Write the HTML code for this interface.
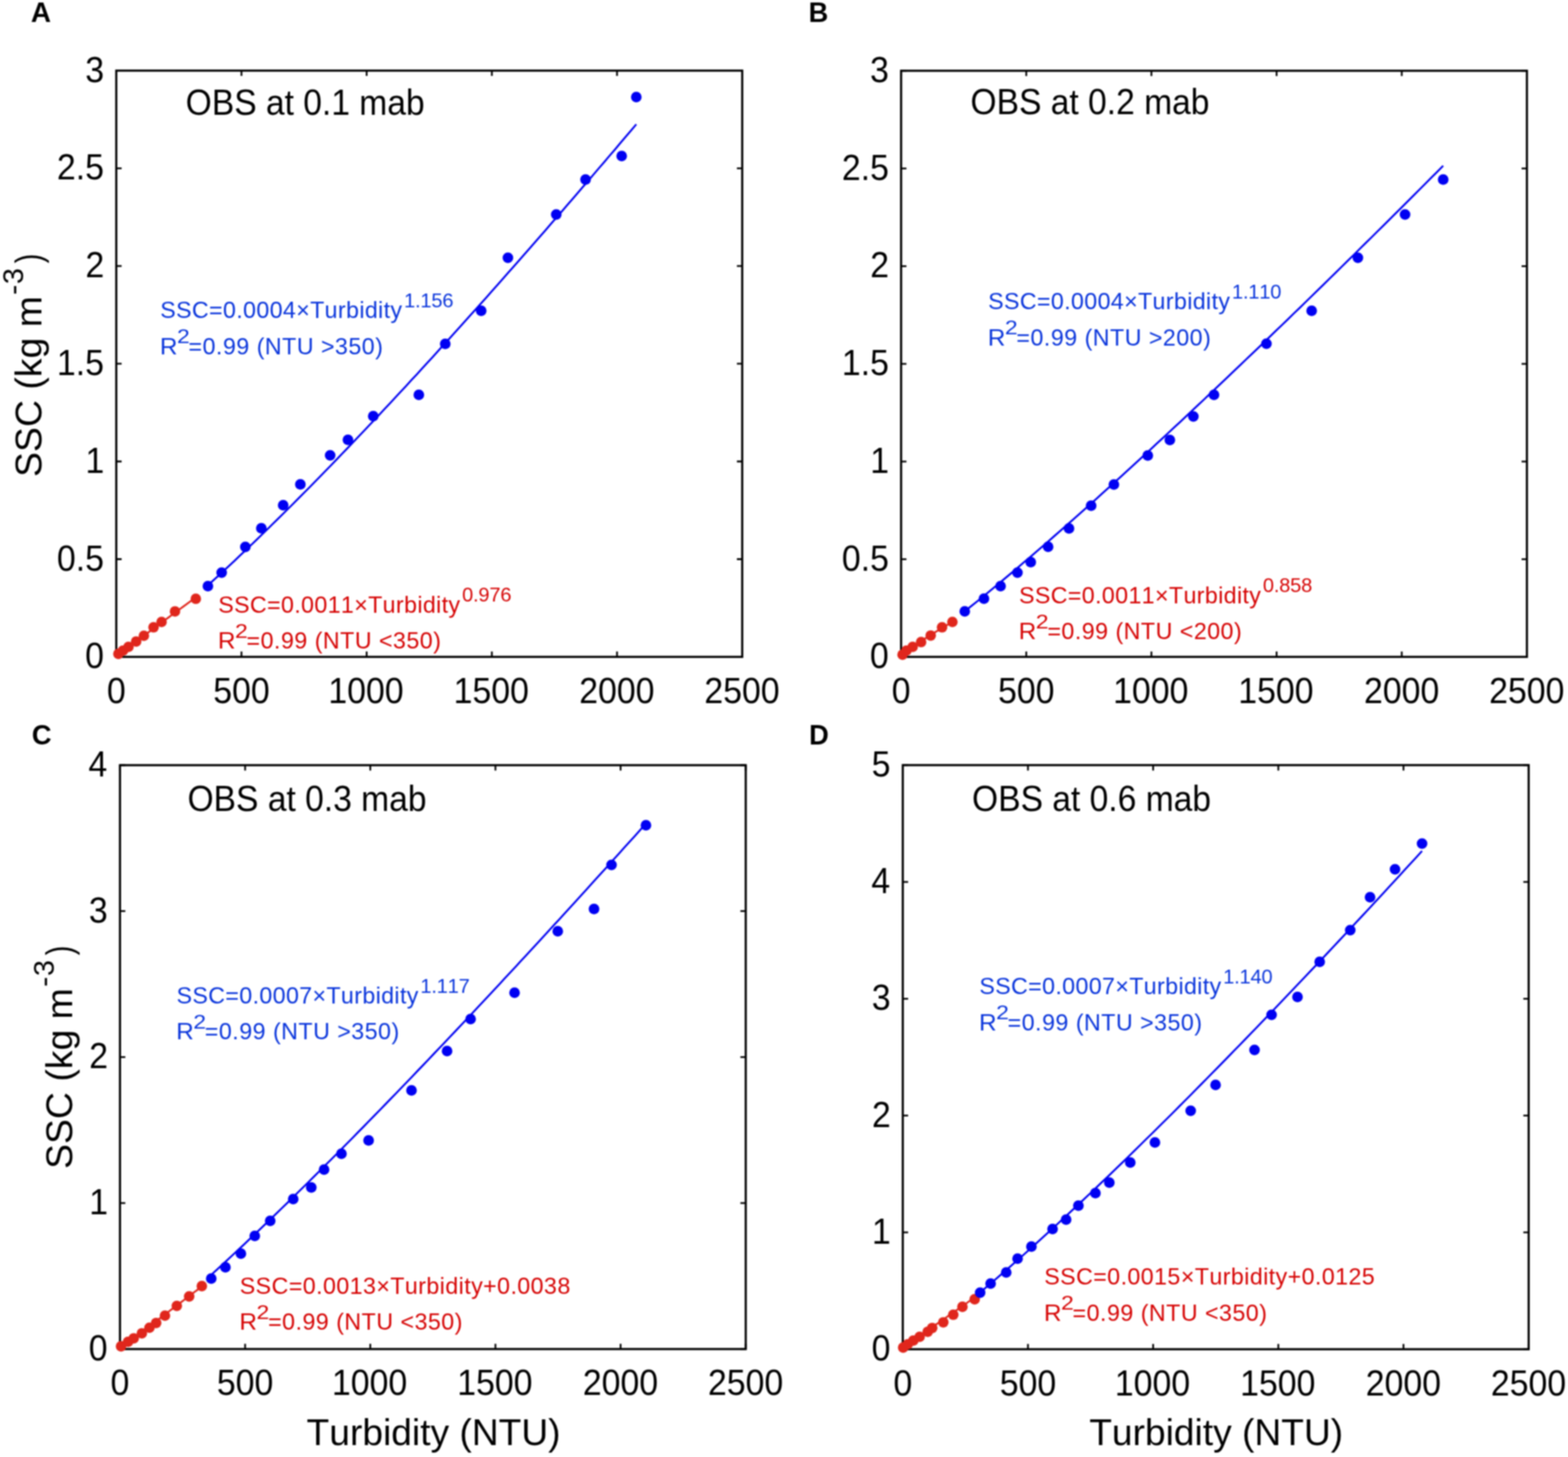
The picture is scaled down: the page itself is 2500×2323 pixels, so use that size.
<!DOCTYPE html>
<html><head><meta charset="utf-8"><title>SSC vs Turbidity calibration</title>
<style>
html,body{margin:0;padding:0;background:#fff;}
svg{display:block;}
#fig{width:2500px;height:2323px;filter:blur(0.8px);}
text{font-family:"Liberation Sans",Arial,Helvetica,sans-serif;font-kerning:none;}
</style></head><body>
<div id="fig">
<svg width="2500" height="2323" viewBox="0 0 2500 2323">
<rect width="2500" height="2323" fill="#fff"/>
<rect x="185.4" y="112.6" width="998.00" height="934.70" fill="none" stroke="#000" stroke-width="3.4"/>
<text x="170.40" y="1120.70" font-size="56.5" textLength="30.00" lengthAdjust="spacingAndGlyphs" fill="#000">0</text>
<text x="339.97" y="1120.70" font-size="56.5" textLength="90.01" lengthAdjust="spacingAndGlyphs" fill="#000">500</text>
<text x="523.59" y="1120.70" font-size="56.5" textLength="120.02" lengthAdjust="spacingAndGlyphs" fill="#000">1000</text>
<text x="723.19" y="1120.70" font-size="56.5" textLength="120.02" lengthAdjust="spacingAndGlyphs" fill="#000">1500</text>
<text x="923.49" y="1120.70" font-size="56.5" textLength="120.02" lengthAdjust="spacingAndGlyphs" fill="#000">2000</text>
<text x="1123.09" y="1120.70" font-size="56.5" textLength="120.02" lengthAdjust="spacingAndGlyphs" fill="#000">2500</text>
<text x="135.70" y="1065.30" font-size="56.5" textLength="30.00" lengthAdjust="spacingAndGlyphs" fill="#000">0</text>
<text x="90.87" y="909.52" font-size="56.5" textLength="75.00" lengthAdjust="spacingAndGlyphs" fill="#000">0.5</text>
<text x="136.23" y="753.73" font-size="56.5" textLength="30.00" lengthAdjust="spacingAndGlyphs" fill="#000">1</text>
<text x="90.87" y="597.95" font-size="56.5" textLength="75.00" lengthAdjust="spacingAndGlyphs" fill="#000">1.5</text>
<text x="136.31" y="442.17" font-size="56.5" textLength="30.00" lengthAdjust="spacingAndGlyphs" fill="#000">2</text>
<text x="90.87" y="286.38" font-size="56.5" textLength="75.00" lengthAdjust="spacingAndGlyphs" fill="#000">2.5</text>
<text x="135.97" y="130.60" font-size="56.5" textLength="30.00" lengthAdjust="spacingAndGlyphs" fill="#000">3</text>
<path d="M185.40,1047.30v-8.5M185.40,112.60v8.5M385.00,1047.30v-8.5M385.00,112.60v8.5M584.60,1047.30v-8.5M584.60,112.60v8.5M784.20,1047.30v-8.5M784.20,112.60v8.5M983.80,1047.30v-8.5M983.80,112.60v8.5M1183.40,1047.30v-8.5M1183.40,112.60v8.5M185.40,1047.30h8.5M1183.40,1047.30h-8.5M185.40,891.52h8.5M1183.40,891.52h-8.5M185.40,735.73h8.5M1183.40,735.73h-8.5M185.40,579.95h8.5M1183.40,579.95h-8.5M185.40,424.17h8.5M1183.40,424.17h-8.5M185.40,268.38h8.5M1183.40,268.38h-8.5M185.40,112.60h8.5M1183.40,112.60h-8.5" stroke="#000" stroke-width="2.8" fill="none"/>
<polyline points="331.5,933.2 340.0,925.4 348.6,917.6 357.1,909.7 365.6,901.8 374.2,893.8 382.7,885.7 391.3,877.6 399.8,869.5 408.3,861.3 416.9,853.0 425.4,844.7 433.9,836.3 442.5,827.9 451.0,819.5 459.6,811.0 468.1,802.5 476.6,793.9 485.2,785.3 493.7,776.7 502.2,768.0 510.8,759.3 519.3,750.5 527.9,741.7 536.4,732.9 544.9,724.0 553.5,715.1 562.0,706.2 570.5,697.3 579.1,688.3 587.6,679.3 596.2,670.2 604.7,661.2 613.2,652.1 621.8,642.9 630.3,633.8 638.9,624.6 647.4,615.4 655.9,606.1 664.5,596.9 673.0,587.6 681.5,578.2 690.1,568.9 698.6,559.5 707.1,550.1 715.7,540.7 724.2,531.3 732.8,521.8 741.3,512.3 749.8,502.8 758.4,493.3 766.9,483.7 775.5,474.2 784.0,464.6 792.5,454.9 801.1,445.3 809.6,435.6 818.1,426.0 826.7,416.3 835.2,406.5 843.8,396.8 852.3,387.0 860.8,377.3 869.4,367.5 877.9,357.6 886.4,347.8 895.0,337.9 903.5,328.1 912.0,318.2 920.6,308.3 929.1,298.3 937.7,288.4 946.2,278.4 954.7,268.4 963.3,258.4 971.8,248.4 980.4,238.4 988.9,228.3 997.4,218.3 1006.0,208.2 1014.5,198.1" fill="none" stroke="#0000f2" stroke-width="3.0" stroke-linejoin="round"/>
<polyline points="188.8,1044.5 190.3,1043.3 191.9,1042.1 193.4,1040.9 195.0,1039.7 196.5,1038.5 198.1,1037.3 199.6,1036.1 201.1,1034.9 202.7,1033.7 204.2,1032.6 205.8,1031.4 207.3,1030.2 208.9,1029.0 210.4,1027.9 211.9,1026.7 213.5,1025.5 215.0,1024.4 216.6,1023.2 218.1,1022.0 219.7,1020.9 221.2,1019.7 222.7,1018.6 224.3,1017.4 225.8,1016.2 227.4,1015.1 228.9,1013.9 230.4,1012.8 232.0,1011.6 233.5,1010.5 235.1,1009.3 236.6,1008.2 238.2,1007.0 239.7,1005.9 241.2,1004.7 242.8,1003.6 244.3,1002.4 245.9,1001.3 247.4,1000.1 249.0,999.0 250.5,997.8 252.0,996.7 253.6,995.6 255.1,994.4 256.7,993.3 258.2,992.1 259.8,991.0 261.3,989.9 262.8,988.7 264.4,987.6 265.9,986.4 267.5,985.3 269.0,984.2 270.6,983.0 272.1,981.9 273.6,980.8 275.2,979.6 276.7,978.5 278.3,977.3 279.8,976.2 281.4,975.1 282.9,973.9 284.4,972.8 286.0,971.7 287.5,970.6 289.1,969.4 290.6,968.3 292.1,967.2 293.7,966.0 295.2,964.9 296.8,963.8 298.3,962.6 299.9,961.5 301.4,960.4 302.9,959.3 304.5,958.1 306.0,957.0 307.6,955.9 309.1,954.7 310.7,953.6 312.2,952.5" fill="none" stroke="#e0261c" stroke-width="3.0" stroke-linejoin="round"/>
<circle cx="188.8" cy="1042.5" r="8.4" fill="#e0261c"/>
<circle cx="196.0" cy="1037.4" r="8.4" fill="#e0261c"/>
<circle cx="204.8" cy="1031.4" r="8.4" fill="#e0261c"/>
<circle cx="217.1" cy="1022.8" r="8.4" fill="#e0261c"/>
<circle cx="229.4" cy="1013.6" r="8.4" fill="#e0261c"/>
<circle cx="244.8" cy="1000.2" r="8.4" fill="#e0261c"/>
<circle cx="257.6" cy="991.6" r="8.4" fill="#e0261c"/>
<circle cx="279.0" cy="974.8" r="8.4" fill="#e0261c"/>
<circle cx="312.2" cy="954.7" r="8.4" fill="#e0261c"/>
<circle cx="331.5" cy="934.6" r="8.5" fill="#0000f2"/>
<circle cx="353.4" cy="913.0" r="8.5" fill="#0000f2"/>
<circle cx="391.2" cy="872.0" r="8.5" fill="#0000f2"/>
<circle cx="416.7" cy="842.2" r="8.5" fill="#0000f2"/>
<circle cx="451.5" cy="805.5" r="8.5" fill="#0000f2"/>
<circle cx="478.9" cy="772.2" r="8.5" fill="#0000f2"/>
<circle cx="526.4" cy="726.0" r="8.5" fill="#0000f2"/>
<circle cx="554.8" cy="701.3" r="8.5" fill="#0000f2"/>
<circle cx="595.1" cy="663.6" r="8.5" fill="#0000f2"/>
<circle cx="667.8" cy="629.4" r="8.5" fill="#0000f2"/>
<circle cx="709.9" cy="548.2" r="8.5" fill="#0000f2"/>
<circle cx="767.2" cy="495.5" r="8.5" fill="#0000f2"/>
<circle cx="809.8" cy="411.0" r="8.5" fill="#0000f2"/>
<circle cx="886.9" cy="342.1" r="8.5" fill="#0000f2"/>
<circle cx="933.6" cy="286.3" r="8.5" fill="#0000f2"/>
<circle cx="991.2" cy="248.7" r="8.5" fill="#0000f2"/>
<circle cx="1014.5" cy="154.7" r="8.5" fill="#0000f2"/>
<rect x="1436.7" y="112.8" width="997.80" height="934.50" fill="none" stroke="#000" stroke-width="3.4"/>
<text x="1421.70" y="1120.70" font-size="56.5" textLength="30.00" lengthAdjust="spacingAndGlyphs" fill="#000">0</text>
<text x="1591.23" y="1120.70" font-size="56.5" textLength="90.01" lengthAdjust="spacingAndGlyphs" fill="#000">500</text>
<text x="1774.81" y="1120.70" font-size="56.5" textLength="120.02" lengthAdjust="spacingAndGlyphs" fill="#000">1000</text>
<text x="1974.37" y="1120.70" font-size="56.5" textLength="120.02" lengthAdjust="spacingAndGlyphs" fill="#000">1500</text>
<text x="2174.63" y="1120.70" font-size="56.5" textLength="120.02" lengthAdjust="spacingAndGlyphs" fill="#000">2000</text>
<text x="2374.19" y="1120.70" font-size="56.5" textLength="120.02" lengthAdjust="spacingAndGlyphs" fill="#000">2500</text>
<text x="1387.00" y="1065.30" font-size="56.5" textLength="30.00" lengthAdjust="spacingAndGlyphs" fill="#000">0</text>
<text x="1342.17" y="909.55" font-size="56.5" textLength="75.00" lengthAdjust="spacingAndGlyphs" fill="#000">0.5</text>
<text x="1387.53" y="753.80" font-size="56.5" textLength="30.00" lengthAdjust="spacingAndGlyphs" fill="#000">1</text>
<text x="1342.17" y="598.05" font-size="56.5" textLength="75.00" lengthAdjust="spacingAndGlyphs" fill="#000">1.5</text>
<text x="1387.61" y="442.30" font-size="56.5" textLength="30.00" lengthAdjust="spacingAndGlyphs" fill="#000">2</text>
<text x="1342.17" y="286.55" font-size="56.5" textLength="75.00" lengthAdjust="spacingAndGlyphs" fill="#000">2.5</text>
<text x="1387.27" y="130.80" font-size="56.5" textLength="30.00" lengthAdjust="spacingAndGlyphs" fill="#000">3</text>
<path d="M1436.70,1047.30v-8.5M1436.70,112.80v8.5M1636.26,1047.30v-8.5M1636.26,112.80v8.5M1835.82,1047.30v-8.5M1835.82,112.80v8.5M2035.38,1047.30v-8.5M2035.38,112.80v8.5M2234.94,1047.30v-8.5M2234.94,112.80v8.5M2434.50,1047.30v-8.5M2434.50,112.80v8.5M1436.70,1047.30h8.5M2434.50,1047.30h-8.5M1436.70,891.55h8.5M2434.50,891.55h-8.5M1436.70,735.80h8.5M2434.50,735.80h-8.5M1436.70,580.05h8.5M2434.50,580.05h-8.5M1436.70,424.30h8.5M2434.50,424.30h-8.5M1436.70,268.55h8.5M2434.50,268.55h-8.5M1436.70,112.80h8.5M2434.50,112.80h-8.5" stroke="#000" stroke-width="2.8" fill="none"/>
<polyline points="1538.2,974.6 1547.7,967.0 1557.3,959.3 1566.8,951.6 1576.3,943.8 1585.9,935.9 1595.4,928.0 1604.9,920.0 1614.5,912.0 1624.0,903.9 1633.5,895.7 1643.1,887.6 1652.6,879.4 1662.2,871.1 1671.7,862.8 1681.2,854.5 1690.8,846.1 1700.3,837.7 1709.8,829.3 1719.4,820.8 1728.9,812.3 1738.4,803.8 1748.0,795.3 1757.5,786.7 1767.0,778.1 1776.6,769.4 1786.1,760.8 1795.6,752.1 1805.2,743.4 1814.7,734.6 1824.2,725.8 1833.8,717.1 1843.3,708.2 1852.9,699.4 1862.4,690.5 1871.9,681.7 1881.5,672.8 1891.0,663.8 1900.5,654.9 1910.1,645.9 1919.6,637.0 1929.1,627.9 1938.7,618.9 1948.2,609.9 1957.7,600.8 1967.3,591.7 1976.8,582.6 1986.3,573.5 1995.9,564.4 2005.4,555.3 2015.0,546.1 2024.5,536.9 2034.0,527.7 2043.6,518.5 2053.1,509.3 2062.6,500.0 2072.2,490.8 2081.7,481.5 2091.2,472.2 2100.8,462.9 2110.3,453.6 2119.8,444.2 2129.4,434.9 2138.9,425.5 2148.4,416.1 2158.0,406.7 2167.5,397.3 2177.0,387.9 2186.6,378.5 2196.1,369.0 2205.7,359.6 2215.2,350.1 2224.7,340.6 2234.3,331.1 2243.8,321.6 2253.3,312.1 2262.9,302.5 2272.4,293.0 2281.9,283.4 2291.5,273.9 2301.0,264.3" fill="none" stroke="#0000f2" stroke-width="3.0" stroke-linejoin="round"/>
<polyline points="1439.0,1044.6 1440.0,1043.6 1441.0,1042.7 1442.0,1041.8 1443.0,1040.9 1444.0,1040.1 1445.0,1039.3 1446.0,1038.5 1447.0,1037.7 1447.9,1036.9 1448.9,1036.1 1449.9,1035.4 1450.9,1034.6 1451.9,1033.9 1452.9,1033.1 1453.9,1032.4 1454.9,1031.7 1455.9,1030.9 1456.9,1030.2 1457.9,1029.5 1458.9,1028.8 1459.9,1028.1 1460.9,1027.4 1461.9,1026.8 1462.8,1026.1 1463.8,1025.4 1464.8,1024.7 1465.8,1024.0 1466.8,1023.4 1467.8,1022.7 1468.8,1022.0 1469.8,1021.4 1470.8,1020.7 1471.8,1020.1 1472.8,1019.4 1473.8,1018.8 1474.8,1018.1 1475.8,1017.5 1476.8,1016.9 1477.8,1016.2 1478.8,1015.6 1479.7,1015.0 1480.7,1014.3 1481.7,1013.7 1482.7,1013.1 1483.7,1012.4 1484.7,1011.8 1485.7,1011.2 1486.7,1010.6 1487.7,1010.0 1488.7,1009.4 1489.7,1008.7 1490.7,1008.1 1491.7,1007.5 1492.7,1006.9 1493.7,1006.3 1494.7,1005.7 1495.6,1005.1 1496.6,1004.5 1497.6,1003.9 1498.6,1003.3 1499.6,1002.7 1500.6,1002.1 1501.6,1001.5 1502.6,1000.9 1503.6,1000.4 1504.6,999.8 1505.6,999.2 1506.6,998.6 1507.6,998.0 1508.6,997.4 1509.6,996.8 1510.5,996.3 1511.5,995.7 1512.5,995.1 1513.5,994.5 1514.5,993.9 1515.5,993.4 1516.5,992.8 1517.5,992.2 1518.5,991.7" fill="none" stroke="#e0261c" stroke-width="3.0" stroke-linejoin="round"/>
<circle cx="1439.0" cy="1043.8" r="8.4" fill="#e0261c"/>
<circle cx="1445.1" cy="1037.4" r="8.4" fill="#e0261c"/>
<circle cx="1455.1" cy="1031.4" r="8.4" fill="#e0261c"/>
<circle cx="1468.6" cy="1023.7" r="8.4" fill="#e0261c"/>
<circle cx="1483.9" cy="1013.3" r="8.4" fill="#e0261c"/>
<circle cx="1502.0" cy="1000.2" r="8.4" fill="#e0261c"/>
<circle cx="1518.5" cy="991.6" r="8.4" fill="#e0261c"/>
<circle cx="1538.2" cy="974.7" r="8.5" fill="#0000f2"/>
<circle cx="1568.8" cy="954.6" r="8.5" fill="#0000f2"/>
<circle cx="1595.3" cy="934.4" r="8.5" fill="#0000f2"/>
<circle cx="1622.2" cy="912.9" r="8.5" fill="#0000f2"/>
<circle cx="1643.4" cy="896.2" r="8.5" fill="#0000f2"/>
<circle cx="1671.1" cy="871.8" r="8.5" fill="#0000f2"/>
<circle cx="1704.4" cy="842.5" r="8.5" fill="#0000f2"/>
<circle cx="1739.7" cy="806.2" r="8.5" fill="#0000f2"/>
<circle cx="1776.0" cy="772.6" r="8.5" fill="#0000f2"/>
<circle cx="1830.0" cy="726.2" r="8.5" fill="#0000f2"/>
<circle cx="1865.2" cy="701.6" r="8.5" fill="#0000f2"/>
<circle cx="1902.7" cy="664.1" r="8.5" fill="#0000f2"/>
<circle cx="1935.6" cy="629.4" r="8.5" fill="#0000f2"/>
<circle cx="2019.2" cy="548.1" r="8.5" fill="#0000f2"/>
<circle cx="2091.3" cy="495.5" r="8.5" fill="#0000f2"/>
<circle cx="2165.0" cy="410.9" r="8.5" fill="#0000f2"/>
<circle cx="2240.2" cy="342.0" r="8.5" fill="#0000f2"/>
<circle cx="2301.0" cy="286.3" r="8.5" fill="#0000f2"/>
<rect x="191.3" y="1220.0" width="997.70" height="930.90" fill="none" stroke="#000" stroke-width="3.4"/>
<text x="176.30" y="2224.30" font-size="56.5" textLength="30.00" lengthAdjust="spacingAndGlyphs" fill="#000">0</text>
<text x="345.81" y="2224.30" font-size="56.5" textLength="90.01" lengthAdjust="spacingAndGlyphs" fill="#000">500</text>
<text x="529.37" y="2224.30" font-size="56.5" textLength="120.02" lengthAdjust="spacingAndGlyphs" fill="#000">1000</text>
<text x="728.91" y="2224.30" font-size="56.5" textLength="120.02" lengthAdjust="spacingAndGlyphs" fill="#000">1500</text>
<text x="929.15" y="2224.30" font-size="56.5" textLength="120.02" lengthAdjust="spacingAndGlyphs" fill="#000">2000</text>
<text x="1128.69" y="2224.30" font-size="56.5" textLength="120.02" lengthAdjust="spacingAndGlyphs" fill="#000">2500</text>
<text x="141.60" y="2168.90" font-size="56.5" textLength="30.00" lengthAdjust="spacingAndGlyphs" fill="#000">0</text>
<text x="142.13" y="1936.18" font-size="56.5" textLength="30.00" lengthAdjust="spacingAndGlyphs" fill="#000">1</text>
<text x="142.21" y="1703.45" font-size="56.5" textLength="30.00" lengthAdjust="spacingAndGlyphs" fill="#000">2</text>
<text x="141.87" y="1470.72" font-size="56.5" textLength="30.00" lengthAdjust="spacingAndGlyphs" fill="#000">3</text>
<text x="141.08" y="1238.00" font-size="56.5" textLength="30.00" lengthAdjust="spacingAndGlyphs" fill="#000">4</text>
<path d="M191.30,2150.90v-8.5M191.30,1220.00v8.5M390.84,2150.90v-8.5M390.84,1220.00v8.5M590.38,2150.90v-8.5M590.38,1220.00v8.5M789.92,2150.90v-8.5M789.92,1220.00v8.5M989.46,2150.90v-8.5M989.46,1220.00v8.5M1189.00,2150.90v-8.5M1189.00,1220.00v8.5M191.30,2150.90h8.5M1189.00,2150.90h-8.5M191.30,1918.18h8.5M1189.00,1918.18h-8.5M191.30,1685.45h8.5M1189.00,1685.45h-8.5M191.30,1452.72h8.5M1189.00,1452.72h-8.5M191.30,1220.00h8.5M1189.00,1220.00h-8.5" stroke="#000" stroke-width="2.8" fill="none"/>
<polyline points="336.8,2032.5 345.5,2024.6 354.1,2016.6 362.8,2008.6 371.5,2000.5 380.1,1992.4 388.8,1984.3 397.4,1976.1 406.1,1967.9 414.8,1959.6 423.4,1951.3 432.1,1943.0 440.8,1934.6 449.4,1926.2 458.1,1917.8 466.8,1909.3 475.4,1900.8 484.1,1892.3 492.7,1883.7 501.4,1875.1 510.1,1866.5 518.7,1857.8 527.4,1849.2 536.1,1840.5 544.7,1831.7 553.4,1823.0 562.1,1814.2 570.7,1805.4 579.4,1796.6 588.0,1787.7 596.7,1778.9 605.4,1770.0 614.0,1761.1 622.7,1752.1 631.4,1743.2 640.0,1734.2 648.7,1725.2 657.4,1716.2 666.0,1707.1 674.7,1698.1 683.4,1689.0 692.0,1679.9 700.7,1670.8 709.3,1661.7 718.0,1652.5 726.7,1643.4 735.3,1634.2 744.0,1625.0 752.7,1615.8 761.3,1606.5 770.0,1597.3 778.7,1588.0 787.3,1578.7 796.0,1569.4 804.6,1560.1 813.3,1550.8 822.0,1541.5 830.6,1532.1 839.3,1522.7 848.0,1513.3 856.6,1503.9 865.3,1494.5 874.0,1485.1 882.6,1475.6 891.3,1466.2 899.9,1456.7 908.6,1447.2 917.3,1437.7 925.9,1428.2 934.6,1418.7 943.3,1409.1 951.9,1399.6 960.6,1390.0 969.3,1380.4 977.9,1370.8 986.6,1361.2 995.2,1351.6 1003.9,1342.0 1012.6,1332.4 1021.2,1322.7 1029.9,1313.0" fill="none" stroke="#0000f2" stroke-width="3.0" stroke-linejoin="round"/>
<polyline points="193.0,2148.7 194.6,2147.5 196.2,2146.3 197.8,2145.1 199.4,2143.8 201.1,2142.6 202.7,2141.4 204.3,2140.2 205.9,2139.0 207.5,2137.7 209.1,2136.5 210.7,2135.3 212.3,2134.1 213.9,2132.9 215.5,2131.6 217.2,2130.4 218.8,2129.2 220.4,2128.0 222.0,2126.8 223.6,2125.5 225.2,2124.3 226.8,2123.1 228.4,2121.9 230.0,2120.7 231.6,2119.4 233.2,2118.2 234.9,2117.0 236.5,2115.8 238.1,2114.6 239.7,2113.3 241.3,2112.1 242.9,2110.9 244.5,2109.7 246.1,2108.4 247.7,2107.2 249.3,2106.0 251.0,2104.8 252.6,2103.6 254.2,2102.3 255.8,2101.1 257.4,2099.9 259.0,2098.7 260.6,2097.5 262.2,2096.2 263.8,2095.0 265.5,2093.8 267.1,2092.6 268.7,2091.4 270.3,2090.1 271.9,2088.9 273.5,2087.7 275.1,2086.5 276.7,2085.3 278.3,2084.0 279.9,2082.8 281.6,2081.6 283.2,2080.4 284.8,2079.2 286.4,2077.9 288.0,2076.7 289.6,2075.5 291.2,2074.3 292.8,2073.1 294.4,2071.8 296.0,2070.6 297.6,2069.4 299.3,2068.2 300.9,2067.0 302.5,2065.7 304.1,2064.5 305.7,2063.3 307.3,2062.1 308.9,2060.8 310.5,2059.6 312.1,2058.4 313.8,2057.2 315.4,2056.0 317.0,2054.7 318.6,2053.5 320.2,2052.3 321.8,2051.1" fill="none" stroke="#e0261c" stroke-width="3.0" stroke-linejoin="round"/>
<circle cx="193.0" cy="2146.5" r="8.4" fill="#e0261c"/>
<circle cx="204.1" cy="2139.4" r="8.4" fill="#e0261c"/>
<circle cx="213.2" cy="2133.8" r="8.4" fill="#e0261c"/>
<circle cx="226.2" cy="2125.8" r="8.4" fill="#e0261c"/>
<circle cx="238.3" cy="2116.9" r="8.4" fill="#e0261c"/>
<circle cx="249.0" cy="2109.3" r="8.4" fill="#e0261c"/>
<circle cx="263.0" cy="2097.6" r="8.4" fill="#e0261c"/>
<circle cx="281.9" cy="2082.1" r="8.4" fill="#e0261c"/>
<circle cx="301.6" cy="2067.0" r="8.4" fill="#e0261c"/>
<circle cx="321.8" cy="2050.5" r="8.4" fill="#e0261c"/>
<circle cx="336.8" cy="2038.5" r="8.5" fill="#0000f2"/>
<circle cx="359.4" cy="2020.4" r="8.5" fill="#0000f2"/>
<circle cx="384.1" cy="1998.7" r="8.5" fill="#0000f2"/>
<circle cx="406.2" cy="1970.5" r="8.5" fill="#0000f2"/>
<circle cx="430.8" cy="1946.4" r="8.5" fill="#0000f2"/>
<circle cx="467.5" cy="1911.7" r="8.5" fill="#0000f2"/>
<circle cx="496.3" cy="1893.2" r="8.5" fill="#0000f2"/>
<circle cx="516.7" cy="1864.7" r="8.5" fill="#0000f2"/>
<circle cx="544.4" cy="1839.4" r="8.5" fill="#0000f2"/>
<circle cx="587.7" cy="1818.3" r="8.5" fill="#0000f2"/>
<circle cx="656.1" cy="1738.6" r="8.5" fill="#0000f2"/>
<circle cx="712.8" cy="1675.7" r="8.5" fill="#0000f2"/>
<circle cx="750.3" cy="1624.7" r="8.5" fill="#0000f2"/>
<circle cx="820.4" cy="1582.7" r="8.5" fill="#0000f2"/>
<circle cx="889.3" cy="1484.7" r="8.5" fill="#0000f2"/>
<circle cx="947.1" cy="1449.2" r="8.5" fill="#0000f2"/>
<circle cx="975.0" cy="1379.1" r="8.5" fill="#0000f2"/>
<circle cx="1029.9" cy="1315.7" r="8.5" fill="#0000f2"/>
<rect x="1439.4" y="1219.9" width="997.90" height="931.30" fill="none" stroke="#000" stroke-width="3.4"/>
<text x="1424.40" y="2224.60" font-size="56.5" textLength="30.00" lengthAdjust="spacingAndGlyphs" fill="#000">0</text>
<text x="1593.95" y="2224.60" font-size="56.5" textLength="90.01" lengthAdjust="spacingAndGlyphs" fill="#000">500</text>
<text x="1777.55" y="2224.60" font-size="56.5" textLength="120.02" lengthAdjust="spacingAndGlyphs" fill="#000">1000</text>
<text x="1977.13" y="2224.60" font-size="56.5" textLength="120.02" lengthAdjust="spacingAndGlyphs" fill="#000">1500</text>
<text x="2177.41" y="2224.60" font-size="56.5" textLength="120.02" lengthAdjust="spacingAndGlyphs" fill="#000">2000</text>
<text x="2376.99" y="2224.60" font-size="56.5" textLength="120.02" lengthAdjust="spacingAndGlyphs" fill="#000">2500</text>
<text x="1389.70" y="2169.20" font-size="56.5" textLength="30.00" lengthAdjust="spacingAndGlyphs" fill="#000">0</text>
<text x="1390.23" y="1982.94" font-size="56.5" textLength="30.00" lengthAdjust="spacingAndGlyphs" fill="#000">1</text>
<text x="1390.31" y="1796.68" font-size="56.5" textLength="30.00" lengthAdjust="spacingAndGlyphs" fill="#000">2</text>
<text x="1389.97" y="1610.42" font-size="56.5" textLength="30.00" lengthAdjust="spacingAndGlyphs" fill="#000">3</text>
<text x="1389.18" y="1424.16" font-size="56.5" textLength="30.00" lengthAdjust="spacingAndGlyphs" fill="#000">4</text>
<text x="1389.86" y="1237.90" font-size="56.5" textLength="30.00" lengthAdjust="spacingAndGlyphs" fill="#000">5</text>
<path d="M1439.40,2151.20v-8.5M1439.40,1219.90v8.5M1638.98,2151.20v-8.5M1638.98,1219.90v8.5M1838.56,2151.20v-8.5M1838.56,1219.90v8.5M2038.14,2151.20v-8.5M2038.14,1219.90v8.5M2237.72,2151.20v-8.5M2237.72,1219.90v8.5M2437.30,2151.20v-8.5M2437.30,1219.90v8.5M1439.40,2151.20h8.5M2437.30,2151.20h-8.5M1439.40,1964.94h8.5M2437.30,1964.94h-8.5M1439.40,1778.68h8.5M2437.30,1778.68h-8.5M1439.40,1592.42h8.5M2437.30,1592.42h-8.5M1439.40,1406.16h8.5M2437.30,1406.16h-8.5M1439.40,1219.90h8.5M2437.30,1219.90h-8.5" stroke="#000" stroke-width="2.8" fill="none"/>
<polyline points="1562.7,2060.6 1571.5,2053.2 1580.3,2045.7 1589.1,2038.1 1597.9,2030.5 1606.7,2022.8 1615.5,2015.1 1624.4,2007.3 1633.2,1999.5 1642.0,1991.6 1650.8,1983.7 1659.6,1975.7 1668.4,1967.7 1677.2,1959.6 1686.0,1951.5 1694.8,1943.3 1703.6,1935.1 1712.4,1926.9 1721.2,1918.6 1730.0,1910.3 1738.9,1902.0 1747.7,1893.6 1756.5,1885.2 1765.3,1876.8 1774.1,1868.3 1782.9,1859.8 1791.7,1851.3 1800.5,1842.7 1809.3,1834.1 1818.1,1825.5 1826.9,1816.8 1835.7,1808.2 1844.5,1799.5 1853.3,1790.7 1862.2,1782.0 1871.0,1773.2 1879.8,1764.4 1888.6,1755.5 1897.4,1746.7 1906.2,1737.8 1915.0,1728.9 1923.8,1720.0 1932.6,1711.0 1941.4,1702.1 1950.2,1693.1 1959.0,1684.1 1967.8,1675.0 1976.7,1666.0 1985.5,1656.9 1994.3,1647.8 2003.1,1638.7 2011.9,1629.5 2020.7,1620.4 2029.5,1611.2 2038.3,1602.0 2047.1,1592.8 2055.9,1583.5 2064.7,1574.3 2073.5,1565.0 2082.3,1555.7 2091.2,1546.4 2100.0,1537.1 2108.8,1527.7 2117.6,1518.4 2126.4,1509.0 2135.2,1499.6 2144.0,1490.2 2152.8,1480.8 2161.6,1471.3 2170.4,1461.9 2179.2,1452.4 2188.0,1442.9 2196.8,1433.4 2205.6,1423.9 2214.5,1414.3 2223.3,1404.8 2232.1,1395.2 2240.9,1385.6 2249.7,1376.0 2258.5,1366.4 2267.3,1356.8" fill="none" stroke="#0000f2" stroke-width="3.0" stroke-linejoin="round"/>
<polyline points="1440.0,2148.5 1441.4,2147.5 1442.8,2146.5 1444.3,2145.5 1445.7,2144.5 1447.1,2143.5 1448.5,2142.5 1450.0,2141.5 1451.4,2140.5 1452.8,2139.5 1454.2,2138.5 1455.7,2137.5 1457.1,2136.5 1458.5,2135.5 1460.0,2134.5 1461.4,2133.5 1462.8,2132.5 1464.2,2131.5 1465.7,2130.5 1467.1,2129.5 1468.5,2128.5 1469.9,2127.5 1471.3,2126.5 1472.8,2125.5 1474.2,2124.5 1475.6,2123.5 1477.0,2122.5 1478.5,2121.5 1479.9,2120.5 1481.3,2119.5 1482.8,2118.5 1484.2,2117.5 1485.6,2116.5 1487.0,2115.5 1488.5,2114.5 1489.9,2113.5 1491.3,2112.5 1492.7,2111.5 1494.2,2110.5 1495.6,2109.6 1497.0,2108.6 1498.4,2107.6 1499.8,2106.6 1501.3,2105.6 1502.7,2104.6 1504.1,2103.6 1505.5,2102.6 1507.0,2101.6 1508.4,2100.6 1509.8,2099.6 1511.2,2098.6 1512.7,2097.6 1514.1,2096.6 1515.5,2095.6 1517.0,2094.6 1518.4,2093.6 1519.8,2092.6 1521.2,2091.6 1522.7,2090.6 1524.1,2089.6 1525.5,2088.6 1526.9,2087.6 1528.3,2086.6 1529.8,2085.6 1531.2,2084.6 1532.6,2083.6 1534.0,2082.6 1535.5,2081.6 1536.9,2080.6 1538.3,2079.6 1539.8,2078.6 1541.2,2077.6 1542.6,2076.6 1544.0,2075.6 1545.5,2074.6 1546.9,2073.6 1548.3,2072.6 1549.7,2071.7 1551.2,2070.7 1552.6,2069.7 1554.0,2068.7" fill="none" stroke="#e0261c" stroke-width="3.0" stroke-linejoin="round"/>
<circle cx="1440.0" cy="2148.5" r="8.4" fill="#e0261c"/>
<circle cx="1447.1" cy="2143.4" r="8.4" fill="#e0261c"/>
<circle cx="1456.1" cy="2137.4" r="8.4" fill="#e0261c"/>
<circle cx="1466.2" cy="2131.4" r="8.4" fill="#e0261c"/>
<circle cx="1479.2" cy="2123.3" r="8.4" fill="#e0261c"/>
<circle cx="1486.3" cy="2117.3" r="8.4" fill="#e0261c"/>
<circle cx="1504.0" cy="2108.3" r="8.4" fill="#e0261c"/>
<circle cx="1519.9" cy="2096.2" r="8.4" fill="#e0261c"/>
<circle cx="1534.5" cy="2083.5" r="8.4" fill="#e0261c"/>
<circle cx="1554.0" cy="2071.5" r="8.4" fill="#e0261c"/>
<circle cx="1562.7" cy="2061.0" r="8.5" fill="#0000f2"/>
<circle cx="1579.4" cy="2046.5" r="8.5" fill="#0000f2"/>
<circle cx="1604.3" cy="2028.8" r="8.5" fill="#0000f2"/>
<circle cx="1622.4" cy="2006.7" r="8.5" fill="#0000f2"/>
<circle cx="1644.5" cy="1987.4" r="8.5" fill="#0000f2"/>
<circle cx="1678.2" cy="1959.5" r="8.5" fill="#0000f2"/>
<circle cx="1699.8" cy="1944.6" r="8.5" fill="#0000f2"/>
<circle cx="1719.4" cy="1922.3" r="8.5" fill="#0000f2"/>
<circle cx="1746.5" cy="1902.3" r="8.5" fill="#0000f2"/>
<circle cx="1768.7" cy="1885.5" r="8.5" fill="#0000f2"/>
<circle cx="1802.1" cy="1853.5" r="8.5" fill="#0000f2"/>
<circle cx="1841.4" cy="1821.6" r="8.5" fill="#0000f2"/>
<circle cx="1898.4" cy="1771.0" r="8.5" fill="#0000f2"/>
<circle cx="1938.1" cy="1729.8" r="8.5" fill="#0000f2"/>
<circle cx="2000.2" cy="1674.0" r="8.5" fill="#0000f2"/>
<circle cx="2027.4" cy="1617.9" r="8.5" fill="#0000f2"/>
<circle cx="2068.7" cy="1589.5" r="8.5" fill="#0000f2"/>
<circle cx="2104.1" cy="1533.5" r="8.5" fill="#0000f2"/>
<circle cx="2152.8" cy="1483.1" r="8.5" fill="#0000f2"/>
<circle cx="2184.4" cy="1430.4" r="8.5" fill="#0000f2"/>
<circle cx="2224.2" cy="1386.1" r="8.5" fill="#0000f2"/>
<circle cx="2267.3" cy="1345.1" r="8.5" fill="#0000f2"/>
<text x="49.19" y="35.20" font-size="44" textLength="32.08" lengthAdjust="spacingAndGlyphs" fill="#000" font-weight="bold">A</text>
<text x="1289.30" y="35.40" font-size="44" textLength="31.26" lengthAdjust="spacingAndGlyphs" fill="#000" font-weight="bold">B</text>
<text x="50.71" y="1186.80" font-size="44" textLength="31.48" lengthAdjust="spacingAndGlyphs" fill="#000" font-weight="bold">C</text>
<text x="1290.09" y="1187.00" font-size="44" textLength="31.44" lengthAdjust="spacingAndGlyphs" fill="#000" font-weight="bold">D</text>
<text x="296.06" y="182.90" font-size="57.5" textLength="380.98" lengthAdjust="spacingAndGlyphs" fill="#000">OBS at 0.1 mab</text>
<text x="1547.26" y="182.30" font-size="57.5" textLength="381.09" lengthAdjust="spacingAndGlyphs" fill="#000">OBS at 0.2 mab</text>
<text x="298.96" y="1292.80" font-size="57.5" textLength="381.09" lengthAdjust="spacingAndGlyphs" fill="#000">OBS at 0.3 mab</text>
<text x="1549.76" y="1292.80" font-size="57.5" textLength="381.09" lengthAdjust="spacingAndGlyphs" fill="#000">OBS at 0.6 mab</text>
<text x="255.42" y="507.30" font-size="37" textLength="385.65" lengthAdjust="spacing" fill="#0a35dc">SSC=0.0004×Turbidity</text>
<text x="644.20" y="490.00" font-size="32" textLength="78.93" lengthAdjust="spacing" fill="#0a35dc">1.156</text>
<text x="254.92" y="564.50" font-size="37" textLength="27.97" lengthAdjust="spacingAndGlyphs" fill="#0a35dc">R</text>
<text x="282.27" y="547.20" font-size="32" textLength="20.27" lengthAdjust="spacingAndGlyphs" fill="#0a35dc">2</text>
<text x="300.59" y="564.50" font-size="37" textLength="309.90" lengthAdjust="spacing" fill="#0a35dc">=0.99 (NTU &gt;350)</text>
<text x="347.92" y="976.60" font-size="37" textLength="385.65" lengthAdjust="spacing" fill="#d60404">SSC=0.0011×Turbidity</text>
<text x="736.70" y="959.30" font-size="32" textLength="78.92" lengthAdjust="spacing" fill="#d60404">0.976</text>
<text x="347.42" y="1033.80" font-size="37" textLength="27.97" lengthAdjust="spacingAndGlyphs" fill="#d60404">R</text>
<text x="374.77" y="1016.50" font-size="32" textLength="20.27" lengthAdjust="spacingAndGlyphs" fill="#d60404">2</text>
<text x="393.09" y="1033.80" font-size="37" textLength="309.90" lengthAdjust="spacing" fill="#d60404">=0.99 (NTU &lt;350)</text>
<text x="1575.42" y="493.30" font-size="37" textLength="385.65" lengthAdjust="spacing" fill="#0a35dc">SSC=0.0004×Turbidity</text>
<text x="1964.20" y="476.00" font-size="32" textLength="78.93" lengthAdjust="spacing" fill="#0a35dc">1.110</text>
<text x="1574.92" y="550.50" font-size="37" textLength="27.97" lengthAdjust="spacingAndGlyphs" fill="#0a35dc">R</text>
<text x="1602.27" y="533.20" font-size="32" textLength="20.27" lengthAdjust="spacingAndGlyphs" fill="#0a35dc">2</text>
<text x="1620.59" y="550.50" font-size="37" textLength="309.90" lengthAdjust="spacing" fill="#0a35dc">=0.99 (NTU &gt;200)</text>
<text x="1624.72" y="961.60" font-size="37" textLength="385.65" lengthAdjust="spacing" fill="#d60404">SSC=0.0011×Turbidity</text>
<text x="2013.50" y="944.30" font-size="32" textLength="78.92" lengthAdjust="spacing" fill="#d60404">0.858</text>
<text x="1624.22" y="1018.80" font-size="37" textLength="27.97" lengthAdjust="spacingAndGlyphs" fill="#d60404">R</text>
<text x="1651.57" y="1001.50" font-size="32" textLength="20.27" lengthAdjust="spacingAndGlyphs" fill="#d60404">2</text>
<text x="1669.89" y="1018.80" font-size="37" textLength="309.90" lengthAdjust="spacing" fill="#d60404">=0.99 (NTU &lt;200)</text>
<text x="281.42" y="1599.90" font-size="37" textLength="385.65" lengthAdjust="spacing" fill="#0a35dc">SSC=0.0007×Turbidity</text>
<text x="670.20" y="1582.60" font-size="32" textLength="78.94" lengthAdjust="spacing" fill="#0a35dc">1.117</text>
<text x="280.92" y="1657.10" font-size="37" textLength="27.97" lengthAdjust="spacingAndGlyphs" fill="#0a35dc">R</text>
<text x="308.27" y="1639.80" font-size="32" textLength="20.27" lengthAdjust="spacingAndGlyphs" fill="#0a35dc">2</text>
<text x="326.59" y="1657.10" font-size="37" textLength="309.90" lengthAdjust="spacing" fill="#0a35dc">=0.99 (NTU &gt;350)</text>
<text x="382.22" y="2062.60" font-size="37" textLength="526.99" lengthAdjust="spacing" fill="#d60404">SSC=0.0013×Turbidity+0.0038</text>
<text x="381.72" y="2119.80" font-size="37" textLength="27.97" lengthAdjust="spacingAndGlyphs" fill="#d60404">R</text>
<text x="409.07" y="2102.50" font-size="32" textLength="20.27" lengthAdjust="spacingAndGlyphs" fill="#d60404">2</text>
<text x="427.39" y="2119.80" font-size="37" textLength="309.90" lengthAdjust="spacing" fill="#d60404">=0.99 (NTU &lt;350)</text>
<text x="1561.42" y="1585.40" font-size="37" textLength="385.65" lengthAdjust="spacing" fill="#0a35dc">SSC=0.0007×Turbidity</text>
<text x="1950.20" y="1568.10" font-size="32" textLength="78.93" lengthAdjust="spacing" fill="#0a35dc">1.140</text>
<text x="1560.92" y="1642.60" font-size="37" textLength="27.97" lengthAdjust="spacingAndGlyphs" fill="#0a35dc">R</text>
<text x="1588.27" y="1625.30" font-size="32" textLength="20.27" lengthAdjust="spacingAndGlyphs" fill="#0a35dc">2</text>
<text x="1606.59" y="1642.60" font-size="37" textLength="309.90" lengthAdjust="spacing" fill="#0a35dc">=0.99 (NTU &gt;350)</text>
<text x="1664.92" y="2048.30" font-size="37" textLength="526.93" lengthAdjust="spacing" fill="#d60404">SSC=0.0015×Turbidity+0.0125</text>
<text x="1664.42" y="2105.50" font-size="37" textLength="27.97" lengthAdjust="spacingAndGlyphs" fill="#d60404">R</text>
<text x="1691.77" y="2088.20" font-size="32" textLength="20.27" lengthAdjust="spacingAndGlyphs" fill="#d60404">2</text>
<text x="1710.09" y="2105.50" font-size="37" textLength="309.90" lengthAdjust="spacing" fill="#d60404">=0.99 (NTU &lt;350)</text>
<text x="488.87" y="2304.40" font-size="60" textLength="404.80" lengthAdjust="spacingAndGlyphs" fill="#000">Turbidity (NTU)</text>
<text x="1736.67" y="2304.40" font-size="60" textLength="404.80" lengthAdjust="spacingAndGlyphs" fill="#000">Turbidity (NTU)</text>
<g transform="translate(65.8,757.7) rotate(-90)">
<text x="-2.71" y="0.00" font-size="59.6" textLength="288.24" lengthAdjust="spacingAndGlyphs" fill="#000">SSC (kg m</text>
<text x="287.52" y="-28.50" font-size="46" textLength="16.37" lengthAdjust="spacingAndGlyphs" fill="#000">-</text>
<text x="304.75" y="-28.50" font-size="46" textLength="25.57" lengthAdjust="spacingAndGlyphs" fill="#000">3</text>
<text x="337.93" y="0.00" font-size="59.6" textLength="15.45" lengthAdjust="spacingAndGlyphs" fill="#000">)</text>
</g>
<g transform="translate(114.7,1861.0) rotate(-90)">
<text x="-2.71" y="0.00" font-size="59.6" textLength="288.24" lengthAdjust="spacingAndGlyphs" fill="#000">SSC (kg m</text>
<text x="287.52" y="-28.50" font-size="46" textLength="16.37" lengthAdjust="spacingAndGlyphs" fill="#000">-</text>
<text x="304.75" y="-28.50" font-size="46" textLength="25.57" lengthAdjust="spacingAndGlyphs" fill="#000">3</text>
<text x="337.93" y="0.00" font-size="59.6" textLength="15.45" lengthAdjust="spacingAndGlyphs" fill="#000">)</text>
</g>
</svg>
</div>
</body></html>
